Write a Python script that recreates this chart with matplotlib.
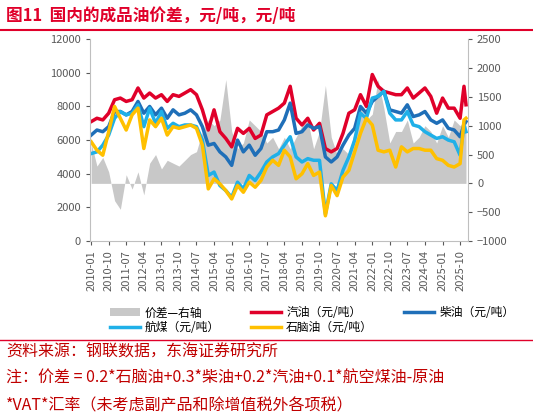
import numpy as np
import pandas as pd
import matplotlib.pyplot as plt
import matplotlib.dates as mdates

plt.rcParams['font.family'] = ['Noto Sans CJK SC', 'DejaVu Sans']

dates = list(pd.date_range('2010-01-01', '2025-10-01', freq='QS')) + [pd.Timestamp('2025-12-01'), pd.Timestamp('2026-01-01')]

gasoline = [7100, 7300, 7200, 7600, 8400, 8500, 8300, 8400, 9100, 8500, 8800, 8500,
            8700, 8300, 8700, 8600, 8800, 9000, 8700, 7800, 6600, 7800, 6500, 6100,
            5600, 6700, 6400, 6700, 6100, 6300, 7500, 7700, 7900, 8200, 9200, 7300,
            6900, 7300, 6600, 7000, 5500, 5300, 5500, 6400, 7600, 7800, 8700, 8000,
            9900, 9200, 8900, 8800, 8700, 8700, 9100, 8500, 8800, 9100, 8600, 7600,
            8500, 7900, 7900, 7300, 9200, 8100]
diesel = [6300, 6600, 6500, 6800, 7700, 7700, 7500, 7700, 8300, 7600, 8000, 7500,
          7900, 7300, 7800, 7500, 7600, 7800, 7500, 6800, 5700, 5800, 5300, 5000,
          4500, 6000, 5300, 5700, 5100, 5500, 6500, 6500, 6600, 7200, 8200, 6400,
          6500, 6900, 6700, 6800, 5000, 4700, 5000, 5700, 6300, 6700, 8000, 7600,
          8300, 8600, 8900, 7800, 7700, 7600, 8100, 7400, 7500, 7700, 7200, 7000,
          7200, 6700, 6600, 6200, 6900, 7100]
jet = [5200, 5300, 5700, 6300, 7300, 7700, 7500, 7600, 8100, 6800, 7900, 7000,
       7700, 6700, 7000, 6800, 6900, 6900, 6800, 6000, 3900, 4100, 3300, 3000,
       2600, 3500, 3100, 3900, 3600, 4100, 4700, 5000, 5200, 5700, 6200, 5000,
       4700, 4900, 4800, 4800, 1600, 3400, 3000, 4200, 5000, 6000, 7600, 7300,
       8500, 8600, 8900, 7600, 7200, 7200, 7700, 6900, 6800, 6500, 6300, 6100,
       6200, 6000, 5900, 5100, 6900, 6500]
naphtha = [5900, 5400, 5100, 6500, 8000, 7300, 6600, 7500, 7900, 5500, 7200, 6800,
           7300, 6300, 6800, 6700, 6800, 6900, 6700, 5700, 3100, 3700, 3400, 3000,
           2500, 3300, 2900, 3500, 3200, 3600, 4400, 4800, 4500, 5400, 5000, 3700,
           4000, 4600, 3900, 4100, 1500, 3300, 2700, 3800, 4200, 5300, 6400, 7300,
           6900, 5400, 5300, 5400, 4400, 5600, 5300, 5500, 5500, 5400, 5400, 4900,
           4800, 4500, 4400, 4600, 7200, 7300]
spread = [700, 300, 450, 200, -300, -450, 150, -100, 200, -200, 350, 500,
          250, 400, 350, 300, 400, 500, 550, 900, 1100, 1000, 1100, 1800,
          900, 600, 700, 1100, 1000, 900, 700, 800, 600, 800, 600, 800,
          1000, 1100, 600, 900, 1700, 800, 500, 600, 500, 900, 1300, 1100,
          1200, 1800, 1300, 700, 900, 900, 1100, 700, 800, 1000, 900, 700,
          1000, 800, 1100, 1000, 1100, 1000]

tick_dates = pd.date_range('2010-01-01', '2025-10-01', freq='9MS')

fig = plt.figure(figsize=(5.33, 4.17), dpi=100)
ax = fig.add_axes([0.169, 0.422, 0.709, 0.484])
ax2 = ax.twinx()
ax.set_zorder(2)
ax.patch.set_visible(False)

ax2.fill_between(dates, 0, spread, color='#C8C8C8', linewidth=0, label='价差—右轴')
ax2.set_ylim(-1000, 2500)
ax2.set_yticks(range(-1000, 2501, 500))

ax.plot(dates, gasoline, color='#E0002A', lw=2.5, label='汽油（元/吨）')
ax.plot(dates, diesel, color='#1F6FB8', lw=2.5, label='柴油（元/吨）')
ax.plot(dates, jet, color='#1FB0E8', lw=2.5, label='航煤（元/吨）')
ax.plot(dates, naphtha, color='#FFC000', lw=2.5, label='石脑油（元/吨）')
ax.set_ylim(0, 12000)
ax.set_yticks(range(0, 12001, 2000))
ax.set_xlim(pd.Timestamp('2009-12-15'), pd.Timestamp('2026-02-01'))
ax.set_xticks(tick_dates)
ax.xaxis.set_major_formatter(mdates.DateFormatter('%Y-%m'))
plt.setp(ax.get_xticklabels(), rotation=90)

for a in (ax, ax2):
    a.tick_params(labelsize=8, colors='#595959', length=3)
    for s in a.spines.values():
        s.set_visible(False)
ax.spines['bottom'].set_visible(True)
ax.spines['bottom'].set_color('#BFBFBF')
ax.spines['left'].set_visible(True)
ax.spines['left'].set_color('#BFBFBF')
ax2.spines['right'].set_visible(True)
ax2.spines['right'].set_color('#BFBFBF')

h1, l1 = ax2.get_legend_handles_labels()
h2, l2 = ax.get_legend_handles_labels()
# column-wise fill: [spread, jet], [gasoline, naphtha], [diesel]
order_h = [h1[0], h2[2], h2[0], h2[3], h2[1]]
order_l = [l1[0], l2[2], l2[0], l2[3], l2[1]]
fig.legend(order_h, order_l, loc='upper left', bbox_to_anchor=(0.19, 0.285), ncol=3,
           frameon=False, fontsize=8.5, handlelength=2.6, columnspacing=2.6,
           handletextpad=0.4, labelspacing=0.15, borderpad=0.2)

red = '#C00000'
fig.text(0.012, 0.962, '图11  国内的成品油价差，元/吨，元/吨', color='#E0002A', fontsize=12,
         fontweight='bold', va='center')
fig.add_artist(plt.Line2D([0, 1], [0.928, 0.928], color='#E0002A', lw=1.5))
fig.add_artist(plt.Line2D([0, 1], [0.185, 0.185], color='#E0002A', lw=1))
fig.text(0.012, 0.155, '资料来源：钢联数据，东海证券研究所', color=red, fontsize=11.5, va='center')
fig.text(0.012, 0.093, '注：价差 = 0.2*石脑油+0.3*柴油+0.2*汽油+0.1*航空煤油-原油', color=red,
         fontsize=11.5, va='center')
fig.text(0.012, 0.027, '*VAT*汇率（未考虑副产品和除增值税外各项税）', color=red, fontsize=11.5,
         va='center')

fig.savefig('out.png', dpi=100)
